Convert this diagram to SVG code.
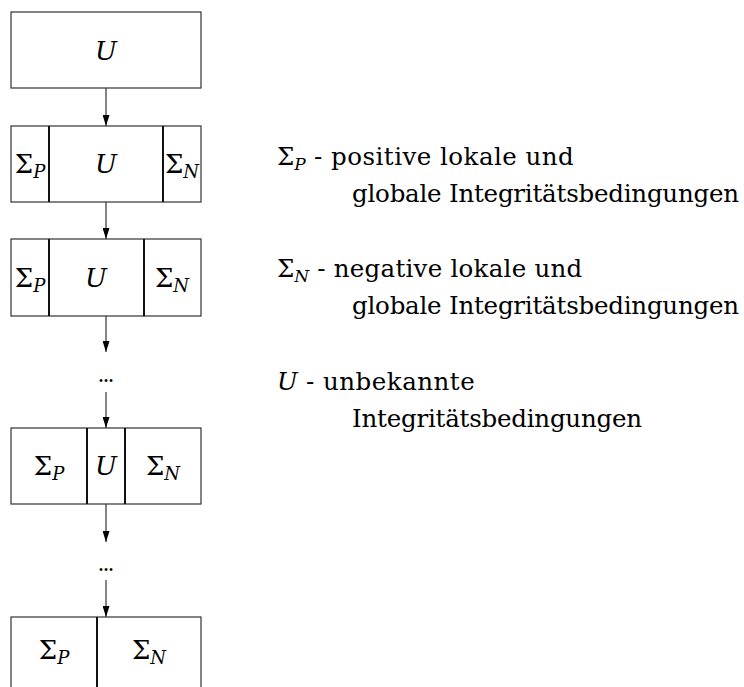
<svg xmlns="http://www.w3.org/2000/svg" width="744" height="687" viewBox="0 0 744 687">
<style>
.box{fill:#fff;stroke:#333;stroke-width:1.2}
.div{stroke:#111;stroke-width:2}
.t{font-family:"DejaVu Serif",serif;font-size:26px;fill:#000}
.lg{font-family:"DejaVu Serif",serif;font-size:24.5px;fill:#000}
.m{font-style:italic}
.sub{font-size:18px;font-style:italic}
.lg .sub{font-size:17px}
.conn{stroke:#333;stroke-width:1.2;fill:none;marker-end:url(#ah)}
.dots{font-family:"DejaVu Serif",serif;font-size:22px;fill:#000}
</style>
<defs>
<marker id="ah" markerUnits="userSpaceOnUse" markerWidth="11" markerHeight="7" refX="11" refY="3.5" orient="auto" viewBox="0 0 11 7">
<path d="M0,0 L11,3.5 L0,7 Z" fill="#000"/>
</marker>
</defs>
<rect width="744" height="687" fill="#fff"/>
<g id="connectors">
<line class="conn" x1="106" y1="88" x2="106" y2="126"/>
<line class="conn" x1="106" y1="202" x2="106" y2="239"/>
<line class="conn" x1="106" y1="316" x2="106" y2="352"/>
<line class="conn" x1="106" y1="392" x2="106" y2="428"/>
<line class="conn" x1="106" y1="504" x2="106" y2="542"/>
<line class="conn" x1="106" y1="580" x2="106" y2="617"/>
</g>
<g id="dots1"><text class="dots" x="106" y="382" text-anchor="middle" textLength="17" lengthAdjust="spacing">...</text></g>
<g id="dots2"><text class="dots" x="106" y="571" text-anchor="middle" textLength="17" lengthAdjust="spacing">...</text></g>
<g id="node1">
<rect class="box" x="11" y="12" width="190" height="76"/>
<text class="t m" x="106" y="60" text-anchor="middle">U</text>
</g>
<g id="node2">
<rect class="box" x="11" y="126" width="190" height="76"/>
<line class="div" x1="49" y1="126" x2="49" y2="202"/>
<line class="div" x1="163" y1="126" x2="163" y2="202"/>
<text class="t" x="30" y="173" text-anchor="middle">Σ<tspan class="sub" dy="5">P</tspan></text>
<text class="t m" x="106" y="173" text-anchor="middle">U</text>
<text class="t" x="182" y="173" text-anchor="middle">Σ<tspan class="sub" dy="5">N</tspan></text>
</g>
<g id="node3">
<rect class="box" x="11" y="239" width="190" height="77"/>
<line class="div" x1="49" y1="239" x2="49" y2="316"/>
<line class="div" x1="144" y1="239" x2="144" y2="316"/>
<text class="t" x="30" y="287" text-anchor="middle">Σ<tspan class="sub" dy="5">P</tspan></text>
<text class="t m" x="96" y="287" text-anchor="middle">U</text>
<text class="t" x="172" y="287" text-anchor="middle">Σ<tspan class="sub" dy="5">N</tspan></text>
</g>
<g id="node4">
<rect class="box" x="11" y="428" width="190" height="76"/>
<line class="div" x1="87" y1="428" x2="87" y2="504"/>
<line class="div" x1="125" y1="428" x2="125" y2="504"/>
<text class="t" x="49" y="475" text-anchor="middle">Σ<tspan class="sub" dy="5">P</tspan></text>
<text class="t m" x="106" y="475" text-anchor="middle">U</text>
<text class="t" x="163" y="475" text-anchor="middle">Σ<tspan class="sub" dy="5">N</tspan></text>
</g>
<g id="node5">
<rect class="box" x="11" y="617" width="190" height="80"/>
<line class="div" x1="97" y1="617" x2="97" y2="697"/>
<text class="t" x="54" y="659" text-anchor="middle">Σ<tspan class="sub" dy="5">P</tspan></text>
<text class="t" x="149" y="659" text-anchor="middle">Σ<tspan class="sub" dy="5">N</tspan></text>
</g>
<g id="legend">
<text class="lg" x="277" y="165">Σ<tspan class="sub" dy="5">P</tspan><tspan dy="-5" textLength="268" lengthAdjust="spacing"> - positive lokale und</tspan></text>
<text class="lg" x="352" y="202" textLength="387" lengthAdjust="spacing">globale Integritätsbedingungen</text>
<text class="lg" x="277" y="277">Σ<tspan class="sub" dy="5">N</tspan><tspan dy="-5" textLength="273" lengthAdjust="spacing"> - negative lokale und</tspan></text>
<text class="lg" x="352" y="314" textLength="387" lengthAdjust="spacing">globale Integritätsbedingungen</text>
<text class="lg" x="277" y="390"><tspan class="m">U</tspan><tspan textLength="177" lengthAdjust="spacing"> - unbekannte</tspan></text>
<text class="lg" x="352" y="427" textLength="290" lengthAdjust="spacing">Integritätsbedingungen</text>
</g>
</svg>
